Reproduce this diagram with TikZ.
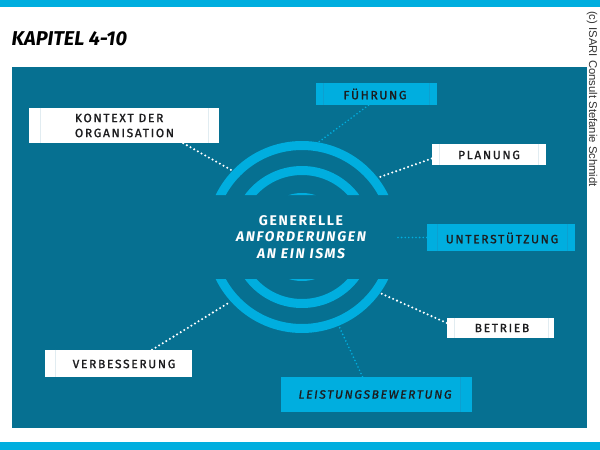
\documentclass[tikz,border=0pt]{standalone}
\usepackage{fontspec}
\setmainfont{Fira Sans}
\newfontfamily\lblfont[LetterSpace=14,FakeBold=1.2]{Fira Sans}
\newfontfamily\ctrfont[LetterSpace=12]{Fira Sans}
\newfontfamily\copyfont{Liberation Sans}
\usetikzlibrary{calc}
\definecolor{panel}{RGB}{6,112,145}
\definecolor{cyanc}{RGB}{0,174,223}
\definecolor{cyanline}{RGB}{12,160,208}
\definecolor{wline}{RGB}{225,236,241}
\definecolor{txt}{RGB}{28,28,30}
\tikzset{
  wbox/.style={fill=white, draw=none, inner sep=0pt},
  cbox/.style={fill=cyanc, draw=none, inner sep=0pt},
  lbl/.style={font=\lblfont\fontsize{12}{15}\selectfont, text=txt, inner sep=0pt, align=left},
  wdots/.style={draw=white, line width=2.3pt, line cap=round, dash pattern=on 0pt off 4.2pt},
  cdots/.style={draw=cyanc, line width=1.8pt, line cap=round, dash pattern=on 0pt off 3.6pt},
  ring/.style={draw=cyanc, line width=9pt},
}
\begin{document}
\begin{tikzpicture}[x=1pt,y=-1pt]
\useasboundingbox (0,0) rectangle (600,450);
\fill[white] (0,0) rectangle (600,450);
% bars and panel
\fill[cyanc] (0,0) rectangle (600,6.5);
\fill[cyanc] (0,442) rectangle (600,450);
\fill[panel] (12,67) rectangle (587,427.5);
% title
\node[anchor=base west, inner sep=0pt, font=\fontsize{20}{22}\selectfont\bfseries\itshape] (title) at (11.5,45) {KAPITEL 4-10};
% copyright
\node[rotate=-90, inner sep=0pt, font=\copyfont\fontsize{11.3}{13}\selectfont, text=black!80] (copy) at (592,99) {(c) ISARI Consult Stefanie Schmidt};
% rings
\coordinate (C) at (302,237);
\begin{scope}
\clip (200,120) rectangle (400,195) (200,279) rectangle (400,350);
\draw[ring] (C) circle[radius=91.5pt];
\draw[ring] (C) circle[radius=66.5pt];
\draw[ring, line width=8pt] (C) circle[radius=40pt];
\end{scope}
% center text
\node[inner sep=0pt, align=center, text=white, font=\ctrfont\fontsize{14}{16.5}\selectfont\bfseries] (ctr) at (301,237)
  {GENERELLE\\ \itshape ANFORDERUNGEN\\ \itshape AN EIN ISMS};
% boxes
\node[wbox, minimum width=190pt, minimum height=35pt] (kbox) at (124,125.5) {};
\node[cbox, minimum width=121pt, minimum height=22pt] (fbox) at (376.5,94) {};
\node[wbox, minimum width=114pt, minimum height=21pt] (pbox) at (489,154.5) {};
\node[cbox, minimum width=148pt, minimum height=27pt] (ubox) at (501,237.5) {};
\node[wbox, minimum width=107pt, minimum height=20pt] (bbox) at (500.5,328) {};
\node[wbox, minimum width=147pt, minimum height=27pt] (vbox) at (118.5,363.5) {};
\node[cbox, minimum width=191pt, minimum height=35pt] (lbox) at (376.5,394.5) {};
% faint inner lines
\draw[wline, line width=0.6pt] ([xshift=11pt]kbox.north west) -- ([xshift=11pt]kbox.south west);
\draw[wline, line width=0.6pt] ([xshift=-11pt]kbox.north east) -- ([xshift=-11pt]kbox.south east);
\draw[cyanline, line width=0.6pt] ([xshift=7pt]fbox.north west) -- ([xshift=7pt]fbox.south west);
\draw[cyanline, line width=0.6pt] ([xshift=-8pt]fbox.north east) -- ([xshift=-8pt]fbox.south east);
\draw[wline, line width=0.6pt] ([xshift=7pt]pbox.north west) -- ([xshift=7pt]pbox.south west);
\draw[wline, line width=0.6pt] ([xshift=-8pt]pbox.north east) -- ([xshift=-8pt]pbox.south east);
\draw[cyanline, line width=0.6pt] ([xshift=10pt]ubox.north west) -- ([xshift=10pt]ubox.south west);
\draw[cyanline, line width=0.6pt] ([xshift=-8pt]ubox.north east) -- ([xshift=-8pt]ubox.south east);
\draw[wline, line width=0.6pt] ([xshift=7pt]bbox.north west) -- ([xshift=7pt]bbox.south west);
\draw[wline, line width=0.6pt] ([xshift=-6pt]bbox.north east) -- ([xshift=-6pt]bbox.south east);
\draw[wline, line width=0.6pt] ([xshift=10pt]vbox.north west) -- ([xshift=10pt]vbox.south west);
\draw[cyanline, line width=0.6pt] ([xshift=-12pt]lbox.north east) -- ([xshift=-12pt]lbox.south east);
% labels
\node[lbl] (kt) at (124.5,125.5) {KONTEXT DER\\ORGANISATION};
\node[lbl] (ft) at (375,94) {FÜHRUNG};
\node[lbl] (pt) at (489,155) {PLANUNG};
\node[lbl] (ut) at (502,238) {UNTERSTÜTZUNG};
\node[lbl] (bt) at (502,328) {BETRIEB};
\node[lbl] (vt) at (124,364) {VERBESSERUNG};
\node[lbl, font=\lblfont\fontsize{12}{15}\selectfont\itshape] (lt) at (375,394.5) {LEISTUNGSBEWERTUNG};
% ring end points
\coordinate (kE) at (233,171);
\coordinate (fE) at (316,144);
\coordinate (pE) at (377,178);
\coordinate (uE) at (397,237.5);
\coordinate (bE) at (380,293);
\coordinate (vE) at (230,302);
\coordinate (lE) at (337,322);
% connectors
\draw[wdots] ([xshift=-36pt]kbox.south east) -- (kE);
\draw[cdots] ([xshift=-8pt]fbox.south) -- (fE);
\draw[wdots] ([yshift=-4pt]pbox.west) -- (pE);
\draw[cdots] (ubox.west) -- (uE);
\draw[wdots] ([yshift=5pt]bbox.west) -- (bE);
\draw[wdots] ([xshift=33.5pt]vbox.north) -- (vE);
\draw[cdots] ([xshift=-14pt]lbox.north) -- (lE);
\end{tikzpicture}
\end{document}
